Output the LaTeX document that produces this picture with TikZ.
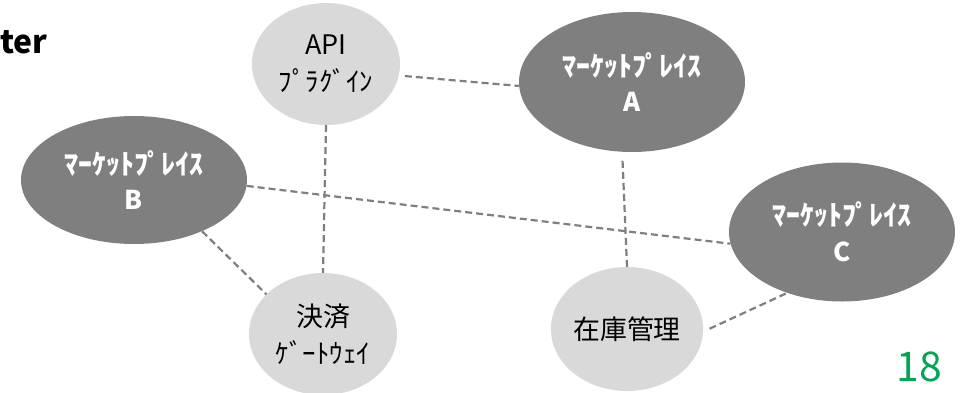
\documentclass[tikz,border=0pt]{standalone}
\usepackage{fontspec}
\setmainfont{Noto Sans CJK JP}
\usetikzlibrary{shapes.geometric}

\definecolor{darkfill}{RGB}{127,127,127}
\definecolor{lightfill}{RGB}{217,217,217}
\definecolor{linkgrey}{RGB}{127,127,127}
\definecolor{pagegreen}{RGB}{0,166,81}

\tikzset{
  bubble/.style={ellipse, inner sep=0pt, align=center},
  lightbubble/.style={bubble, fill=lightfill, text=black,
    font=\fontsize{27}{37}\selectfont, minimum width=148bp, minimum height=122bp},
  darkbubble/.style={bubble, fill=darkfill, text=white,
    font=\bfseries\fontsize{28}{36}\selectfont, minimum width=226bp, minimum height=139bp},
  link/.style={draw=linkgrey, line width=2.2bp, dash pattern=on 7bp off 4bp}
}
% marketplace label: katakana line, then the letter
\newcommand{\mpname}[1]{ﾏｰｹｯﾄﾌﾟﾚｲｽ\\{\fontsize{26}{36}\selectfont #1}}

\begin{document}
\begin{tikzpicture}[x=1bp,y=-1bp]
  \useasboundingbox (0,0) rectangle (963,392);

  % cut-off title at the top left
  \node[anchor=base west, inner sep=0pt, font=\bfseries\fontsize{32}{32}\selectfont] (title) at (0,53) {ter};

  % services (light) and marketplaces (dark)
  \node[lightbubble] (api) at (326,64) {API\\ﾌﾟﾗｸﾞｲﾝ};
  \node[lightbubble] (pay) at (323,334) {決済\\ｹﾞｰﾄｳｪｲ};
  \node[lightbubble, minimum height=124bp] (stock) at (627,329) {在庫管理};

  \node[darkbubble, minimum height=140bp] (mA) at (632,82) {\mpname{A}};
  \node[darkbubble, minimum height=128bp] (mB) at (134,180) {\mpname{B}};
  \node[darkbubble] (mC) at (842,232) {\mpname{C}};

  % dashed links
  \draw[link, shorten <=6bp] (api.-9) -- (mA.182);
  \draw[link] (api.south) -- (pay.north);
  \draw[link] (mB.-3) -- (mC.186);
  \draw[link] (mB.-37) -- (pay.145);
  \draw[link, shorten <=9bp] (mA.-98) -- (stock.north);
  \draw[link, shorten <=7bp] (stock.-2) -- (mC.228);

  % page number
  \node[text=pagegreen, font=\fontsize{41}{41}\selectfont] (page) at (919,367) {18};
\end{tikzpicture}
\end{document}
